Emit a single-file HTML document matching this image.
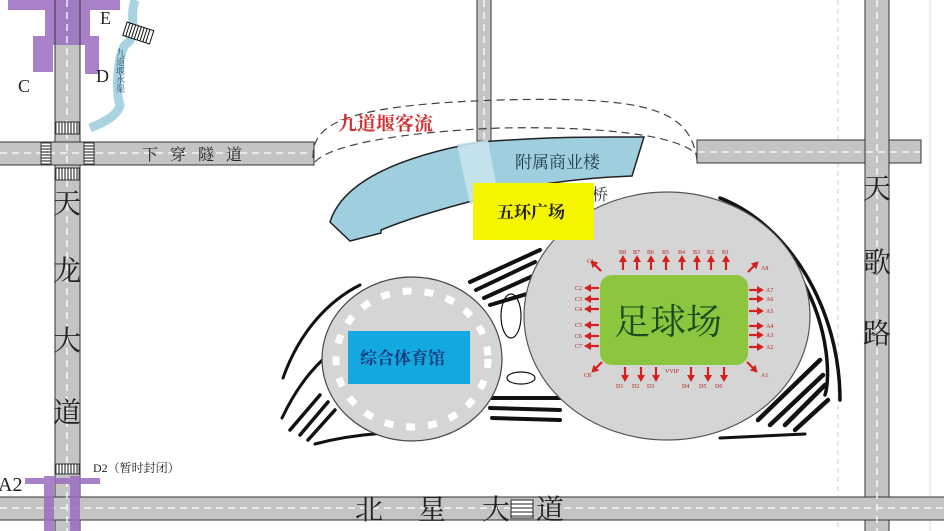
<!DOCTYPE html>
<html><head><meta charset="utf-8"><style>
html,body{margin:0;padding:0;background:#fff;}
svg{display:block;}
text{font-family:"Liberation Serif","Noto Serif CJK SC","Noto Sans CJK SC",serif;}
</style></head><body>
<svg width="944" height="531" viewBox="0 0 944 531" xmlns="http://www.w3.org/2000/svg">
<defs>
<g id="au"><line x1="0" y1="0" x2="0" y2="-9" stroke="#d52020" stroke-width="2.2"/><path d="M-4,-8L0,-15L4,-8z" fill="#d52020"/></g>
</defs>
<line x1="838" y1="0" x2="838" y2="531" stroke="#ccc" stroke-dasharray="5,4"/>
<line x1="930" y1="0" x2="930" y2="531" stroke="#ddd"/>
<g fill="#9b6cc0" opacity="0.85">
<rect x="8" y="0" width="112" height="10"/>
<rect x="45" y="0" width="45" height="45"/>
<rect x="33" y="36" width="20" height="36"/>
<rect x="85" y="36" width="14" height="38"/>
</g>
<g fill="#c4c4c4" stroke="#333" stroke-width="1">
<rect x="55" y="-2" width="25" height="540"/>
<rect x="-2" y="142" width="316" height="23"/>
<rect x="697" y="140" width="224" height="23"/>
<rect x="477" y="-2" width="14" height="143"/>
<rect x="865" y="-2" width="24" height="540"/>
<rect x="-2" y="497" width="950" height="23"/>
</g>
<rect x="55.5" y="0" width="24" height="45" fill="#a07cc0"/>
<rect x="55.5" y="142.5" width="24" height="22" fill="#c4c4c4"/>
<g stroke="#fff" stroke-width="1.3" stroke-dasharray="7,5" fill="none">
<line x1="67" y1="0" x2="67" y2="531"/>
<line x1="0" y1="153" x2="313" y2="153"/>
<line x1="698" y1="152" x2="920" y2="152"/>
<line x1="484" y1="0" x2="484" y2="140"/>
<line x1="877" y1="0" x2="877" y2="531"/>
<line x1="0" y1="508" x2="944" y2="508"/>
</g>
<g fill="#fff" stroke="#111" stroke-width="0.8">
<rect x="56" y="122" width="23" height="12"/>
<rect x="41" y="143" width="10" height="21"/>
<rect x="84" y="143" width="10" height="21"/>
<rect x="56" y="168" width="23" height="12"/>
<rect x="56" y="464" width="23" height="10"/>
</g>
<g stroke="#111" stroke-width="1">
<path d="M59,122v12M62,122v12M65,122v12M68,122v12M71,122v12M74,122v12M77,122v12"/>
<path d="M59,168v12M62,168v12M65,168v12M68,168v12M71,168v12M74,168v12M77,168v12"/>
<path d="M59,464v10M62,464v10M65,464v10M68,464v10M71,464v10M74,464v10M77,464v10"/>
<path d="M41,146h10M41,149h10M41,152h10M41,155h10M41,158h10M41,161h10"/>
<path d="M84,146h10M84,149h10M84,152h10M84,155h10M84,158h10M84,161h10"/>
</g>
<path d="M135,0 C128,20 140,35 125,45 C118,55 115,90 120,105 C118,115 105,122 90,128" stroke="#a8d4e2" stroke-width="9" fill="none"/>
<g transform="rotate(18 138 34)"><rect x="124" y="26" width="28" height="14" fill="#fff" stroke="#111"/>
<path d="M127,26v14M130,26v14M133,26v14M136,26v14M139,26v14M142,26v14M145,26v14M148,26v14" stroke="#111"/></g>
<text x="120" y="48" font-size="9" fill="#1f4a6a" writing-mode="tb">九道堰水渠</text>
<text x="100" y="24" font-size="18" fill="#222">E</text>
<text x="96" y="82" font-size="18" fill="#222">D</text>
<text x="18" y="92" font-size="18" fill="#222">C</text>
<g fill="#9b6cc0" opacity="0.85">
<rect x="25" y="478" width="75" height="6"/>
<rect x="44" y="476" width="10" height="55"/>
<rect x="70" y="476" width="10" height="55"/>
</g>
<text x="-2" y="491" font-size="20" fill="#222">A2</text>
<text x="93" y="472" font-size="12" fill="#222">D2（暂时封闭）</text>
<text x="142" y="160" font-size="16" fill="#222" letter-spacing="12">下穿隧道</text>
<g font-size="28" fill="#222">
<text x="53" y="213">天</text><text x="53" y="280">龙</text><text x="53" y="350">大</text><text x="53" y="422">道</text>
<text x="863" y="198">天</text><text x="863" y="272">歌</text><text x="863" y="343">路</text>
<text x="355" y="519">北</text><text x="418" y="519">星</text><text x="482" y="519">大</text><text x="536" y="519">道</text>
</g>
<rect x="511" y="500" width="22" height="18" fill="#fff" stroke="#222"/>
<path d="M511,504h22M511,508h22M511,512h22M511,516h22" stroke="#222"/>
<path d="M313,158 C312,125 340,105 500,100 C650,96 690,110 697,160" fill="none" stroke="#444" stroke-dasharray="8,5" stroke-width="1.2"/>
<path d="M315,162 C330,145 400,132 500,128 C600,126 680,135 697,155" fill="none" stroke="#444" stroke-dasharray="8,5" stroke-width="1.2"/>
<text x="338" y="130" font-size="19" fill="#d03030" font-weight="bold">九道堰客流</text>
<path d="M330,222 C340,190 380,160 480,142 C560,136 600,137 644,137 L632,176 C580,178 520,185 476,200 C430,212 400,222 381,230 L381,233 L350,241 Z" fill="#9fcfde" stroke="#222" stroke-width="1.5"/>
<path d="M457,144 L488,140 L498,196 L470,204 Z" fill="#c6e3ec" opacity="0.9"/>
<text x="515" y="168" font-size="17" fill="#1f3b50">附属商业楼</text>
<text x="592" y="200" font-size="16" fill="#333">桥</text>
<g stroke="#111" fill="none" stroke-linecap="round">
<path d="M283,378 C300,330 330,300 360,285" stroke-width="3"/>
<path d="M282,418 C300,380 320,360 340,345" stroke-width="3"/>
<path d="M290,430 L320,395 M300,435 L328,402 M308,440 L335,410" stroke-width="3.5"/>
<path d="M315,444 C360,432 400,432 440,432" stroke-width="3"/>
<path d="M470,282 L540,250 M476,290 L535,262 M484,298 L535,275 M490,305 L540,290" stroke-width="4"/>
<path d="M490,398 L560,398 M490,408 L560,410 M492,418 L560,420" stroke-width="4"/>
<ellipse cx="511" cy="316" rx="10" ry="22" stroke-width="1.2"/>
<ellipse cx="521" cy="378" rx="14" ry="6" stroke-width="1.2"/>
<path d="M720,198 C790,225 840,310 840,400" stroke-width="3.5"/>
<path d="M802,280 C830,330 830,380 825,395" stroke-width="3.5"/>
<path d="M758,420 L820,360 M770,425 L823,375 M785,425 L825,385 M795,430 L828,400" stroke-width="4.5"/>
<path d="M720,438 L805,434" stroke-width="3"/>
</g>
<ellipse cx="667" cy="316" rx="143" ry="124" fill="#d5d5d5" stroke="#555" stroke-width="1.2"/>
<rect x="600" y="275" width="148" height="90" rx="12" fill="#8cc63f"/>
<text x="614" y="334" font-size="36" fill="#1d4a1d">足球场</text>
<g>
<use href="#au" transform="translate(623,270)"/><use href="#au" transform="translate(637,270)"/><use href="#au" transform="translate(651,270)"/><use href="#au" transform="translate(666,270)"/><use href="#au" transform="translate(682,270)"/><use href="#au" transform="translate(697,270)"/><use href="#au" transform="translate(711,270)"/><use href="#au" transform="translate(726,270)"/>
<use href="#au" transform="translate(625,367) rotate(180)"/><use href="#au" transform="translate(641,367) rotate(180)"/><use href="#au" transform="translate(656,367) rotate(180)"/><use href="#au" transform="translate(691,367) rotate(180)"/><use href="#au" transform="translate(708,367) rotate(180)"/><use href="#au" transform="translate(724,367) rotate(180)"/>
<use href="#au" transform="translate(599,288) rotate(-90)"/><use href="#au" transform="translate(599,299) rotate(-90)"/><use href="#au" transform="translate(599,309) rotate(-90)"/><use href="#au" transform="translate(599,325) rotate(-90)"/><use href="#au" transform="translate(599,336) rotate(-90)"/><use href="#au" transform="translate(599,346) rotate(-90)"/>
<use href="#au" transform="translate(749,290) rotate(90)"/><use href="#au" transform="translate(749,299) rotate(90)"/><use href="#au" transform="translate(749,311) rotate(90)"/><use href="#au" transform="translate(749,326) rotate(90)"/><use href="#au" transform="translate(749,335) rotate(90)"/><use href="#au" transform="translate(749,347) rotate(90)"/>
<use href="#au" transform="translate(601,271) rotate(-45)"/><use href="#au" transform="translate(748,272) rotate(45)"/><use href="#au" transform="translate(602,362) rotate(-135)"/><use href="#au" transform="translate(747,362) rotate(135)"/>
</g>
<g font-size="6" fill="#b02020" font-family="Liberation Sans,sans-serif">
<text x="619" y="254">B8</text><text x="633" y="254">B7</text><text x="647" y="254">B6</text><text x="662" y="254">B5</text><text x="678" y="254">B4</text><text x="693" y="254">B3</text><text x="707" y="254">B2</text><text x="722" y="254">B1</text>
<text x="587" y="263">C1</text><text x="575" y="290">C2</text><text x="575" y="301">C3</text><text x="575" y="311">C4</text><text x="575" y="327">C5</text><text x="575" y="338">C6</text><text x="575" y="348">C7</text><text x="584" y="377">C8</text>
<text x="761" y="270">A8</text><text x="766" y="292">A7</text><text x="766" y="301">A6</text><text x="766" y="313">A5</text><text x="766" y="328">A4</text><text x="766" y="337">A3</text><text x="766" y="349">A2</text><text x="761" y="377">A1</text>
<text x="616" y="388">D1</text><text x="632" y="388">D2</text><text x="647" y="388">D3</text><text x="682" y="388">D4</text><text x="699" y="388">D5</text><text x="715" y="388">D6</text><text x="665" y="373">VVIP</text>
</g>
<rect x="473" y="183" width="121" height="57" fill="#f5f500"/>
<text x="497" y="218" font-size="17" fill="#222" font-weight="bold">五环广场</text>
<ellipse cx="412" cy="359" rx="90" ry="82" fill="#d5d5d5" stroke="#444" stroke-width="1.2"/>
<ellipse cx="412" cy="359" rx="76" ry="68" fill="none" stroke="#fff" stroke-width="7" stroke-dasharray="9,13"/>
<rect x="348" y="331" width="122" height="53" fill="#14a8e0"/>
<text x="360" y="364" font-size="17" fill="#163a7a" font-weight="bold">综合体育馆</text>
</svg>
</body></html>
